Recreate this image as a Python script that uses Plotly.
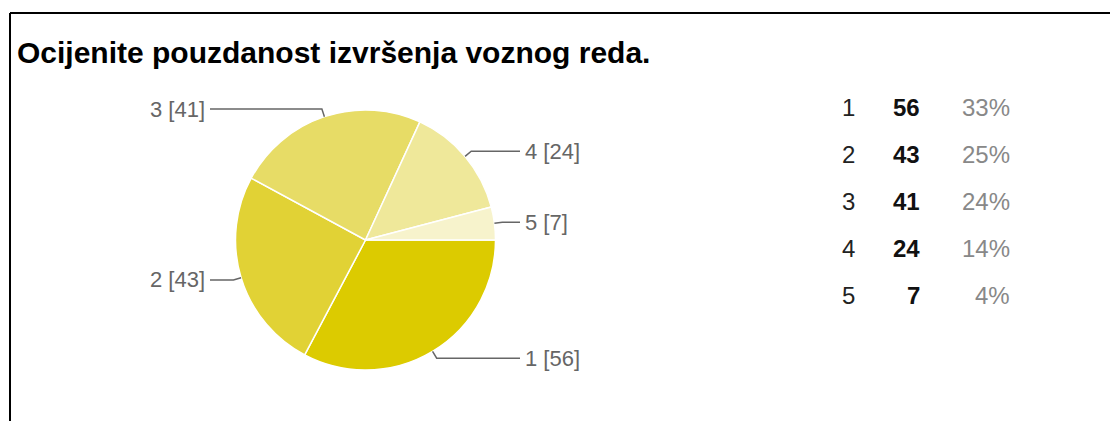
import math
import plotly.graph_objects as go

# ---- data ----
categories = ["1", "2", "3", "4", "5"]
counts = [56, 43, 41, 24, 7]
percents = ["33%", "25%", "24%", "14%", "4%"]
colors = ["#DCCB00", "#E1D235", "#E7DC66", "#EFE89A", "#F7F3CC"]
title_text = "Ocijenite pouzdanost izvršenja voznog reda."

W, H = 1118, 421
OFF = 8  # page body margin
CX, CY, R = 365.5, 240, 130

def px(x):
    return (x - OFF) / W

def py(y):
    return 1 - (y - OFF) / H

FONT = "Arial, Liberation Sans, sans-serif"

fig = go.Figure()
fig.add_trace(go.Pie(
    labels=categories,
    values=counts,
    sort=False,
    direction="clockwise",
    rotation=90,
    marker=dict(colors=colors, line=dict(color="white", width=1.5)),
    textinfo="none",
    hoverinfo="label+value+percent",
    showlegend=False,
    domain=dict(x=[px(CX - R), px(CX + R)], y=[py(CY + R), py(CY - R)]),
))

shapes = []
annotations = []

# border lines
shapes.append(dict(type="line", xref="paper", yref="paper",
                   x0=px(10), x1=1.0, y0=py(13), y1=py(13),
                   line=dict(color="black", width=2)))
shapes.append(dict(type="line", xref="paper", yref="paper",
                   x0=px(10), x1=px(10), y0=py(13), y1=0,
                   line=dict(color="black", width=2)))

# title
annotations.append(dict(text="<b>" + title_text + "</b>", xref="paper", yref="paper",
                        x=px(15), y=py(52), xanchor="left", yanchor="middle",
                        showarrow=False, font=dict(family=FONT, size=30, color="black")))

# outside labels with leader lines (computed from slice angles)
total = sum(counts)
start = 0.0
for cat, v in zip(categories, counts):
    span = 360.0 * v / total
    mid = math.radians(start + span / 2)  # clockwise from east, screen coords
    start += span
    ex, ey = CX + R * math.cos(mid), CY + R * math.sin(mid)
    bx, by = CX + (R + 8) * math.cos(mid), CY + (R + 8) * math.sin(mid)
    right = math.cos(mid) > 0
    lx = 520 if right else 210
    path = f"M {px(ex)},{py(ey)} L {px(bx)},{py(by)} L {px(lx)},{py(by)}"
    shapes.append(dict(type="path", xref="paper", yref="paper", path=path,
                       line=dict(color="#666666", width=1.5)))
    annotations.append(dict(text=f"{cat} [{v}]", xref="paper", yref="paper",
                            x=px(lx + 3 if right else lx - 3), y=py(by),
                            xanchor="left" if right else "right", yanchor="middle",
                            showarrow=False,
                            font=dict(family=FONT, size=22, color="#666666")))

# right-side table
row0, dy = 107, 47
for i, (cat, v, p) in enumerate(zip(categories, counts, percents)):
    y = py(row0 + i * dy)
    annotations.append(dict(text=cat, xref="paper", yref="paper", x=px(840), y=y,
                            xanchor="left", yanchor="middle", showarrow=False,
                            font=dict(family=FONT, size=24, color="#222222")))
    annotations.append(dict(text=f"<b>{v}</b>", xref="paper", yref="paper", x=px(922), y=y,
                            xanchor="right", yanchor="middle", showarrow=False,
                            font=dict(family=FONT, size=24, color="#111111")))
    annotations.append(dict(text=p, xref="paper", yref="paper", x=px(1012), y=y,
                            xanchor="right", yanchor="middle", showarrow=False,
                            font=dict(family=FONT, size=24, color="#888888")))

fig.update_layout(
    width=W, height=H,
    margin=dict(l=0, r=0, t=0, b=0),
    paper_bgcolor="white", plot_bgcolor="white",
    shapes=shapes, annotations=annotations,
    showlegend=False,
)

fig.write_html("out.html")
